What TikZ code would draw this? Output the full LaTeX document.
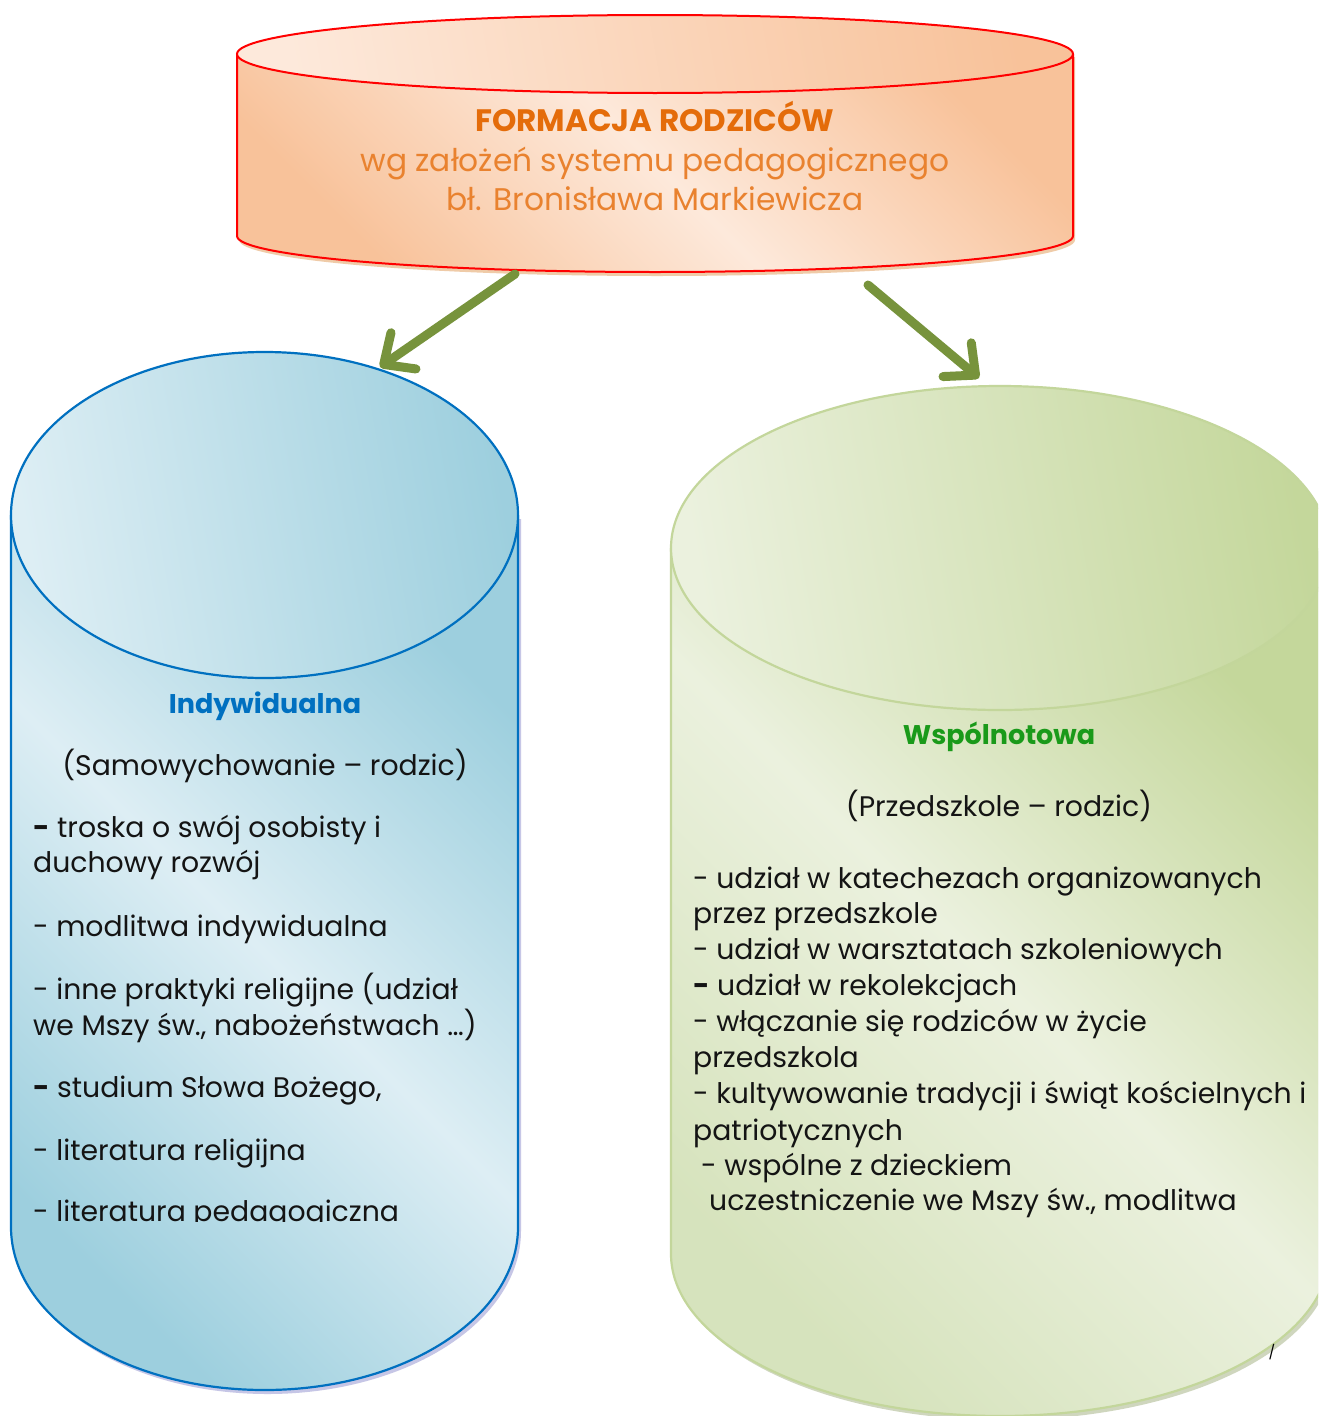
\documentclass[tikz,border=0pt]{standalone}
\usepackage{fontspec}
\setmainfont{Poppins}
\usetikzlibrary{arrows.meta}
\definecolor{arrowgreen}{HTML}{77933C}
\definecolor{titleorange}{HTML}{E46C0A}
\definecolor{suborange}{HTML}{E9822F}
\definecolor{headblue}{HTML}{0070C0}
\definecolor{headgreen}{HTML}{1A9A1A}
\definecolor{bluedark}{HTML}{9DCFDE}
\definecolor{bluelight}{HTML}{DDEEF4}
\definecolor{orangedark}{HTML}{F8C29A}
\definecolor{orangelight}{HTML}{FDE9DB}
\definecolor{greendark}{HTML}{C4D79B}
\definecolor{greenlight}{HTML}{EBF1DE}
\definecolor{greenline}{HTML}{C3D69B}
\pgfdeclarehorizontalshading{bluebody}{100bp}{rgb(0bp)=(0.616,0.812,0.871); rgb(25bp)=(0.616,0.812,0.871); rgb(50bp)=(0.867,0.933,0.957); rgb(75bp)=(0.616,0.812,0.871); rgb(100bp)=(0.616,0.812,0.871)}
\pgfdeclarehorizontalshading{orangebody}{100bp}{rgb(0bp)=(0.973,0.761,0.604); rgb(25bp)=(0.973,0.761,0.604); rgb(50bp)=(0.992,0.914,0.859); rgb(75bp)=(0.973,0.761,0.604); rgb(100bp)=(0.973,0.761,0.604)}
\pgfdeclarehorizontalshading{greenbody}{100bp}{rgb(0bp)=(0.84,0.89,0.74); rgb(25bp)=(0.84,0.89,0.74); rgb(50bp)=(0.922,0.945,0.871); rgb(75bp)=(0.769,0.843,0.608); rgb(100bp)=(0.769,0.843,0.608)}
\begin{document}
\begin{tikzpicture}[x=1pt,y=-1pt,
  txt/.style={font=\fontsize{28.3}{33}\selectfont, inner sep=0pt, text=black!92},
  headtxt/.style={font=\fontsize{27}{32}\selectfont\bfseries, inner sep=0pt},
  toptxt/.style={font=\fontsize{31.3}{36}\selectfont, inner sep=0pt, text=suborange},
  arr/.style={draw=arrowgreen, line width=9pt, line cap=round,
    -{Straight Barb[length=24pt, width=44pt, round]}}
]
\useasboundingbox (0,0) rectangle (1318,1416);
\fill[white] (0,0) rectangle (1318,1416);

% ---------- left cylinder (blue) ----------
\fill[gray!60!blue!40, opacity=0.8] (14,519) -- (14,1231) arc[start angle=180, end angle=0, x radius=253.5, y radius=163] -- (521,519) -- cycle;
\shade[shading=bluebody, shading angle=45] (11,515) -- (11,1227) arc[start angle=180, end angle=0, x radius=253.5, y radius=163] -- (518,515) -- cycle;
\draw[headblue, line width=2.2pt] (11,515) -- (11,1227) arc[start angle=180, end angle=0, x radius=253.5, y radius=163] -- (518,515);
\shade[left color=bluelight, right color=bluedark, shading angle=100] (264.5,515) ellipse[x radius=253.5, y radius=163];
\draw[headblue, line width=2.2pt] (264.5,515) ellipse[x radius=253.5, y radius=163];

% ---------- right cylinder (green) ----------
\begin{scope}
\clip (0,0) rectangle (1318,1416);
\fill[greenline!70!gray, opacity=0.6] (674,551) -- (674,1258) arc[start angle=180, end angle=0, x radius=329, y radius=162] -- (1332,551) -- cycle;
\shade[shading=greenbody, shading angle=45] (671,548) -- (671,1254) arc[start angle=180, end angle=0, x radius=329, y radius=162] -- (1329,548) -- cycle;
\draw[greenline, line width=2.2pt] (671,548) -- (671,1254) arc[start angle=180, end angle=0, x radius=329, y radius=162] -- (1329,548);
\shade[left color=greenlight, right color=greendark, shading angle=100] (1000,548) ellipse[x radius=329, y radius=162];
\draw[greenline, line width=2.2pt] (1000,548) ellipse[x radius=329, y radius=162];
\end{scope}

% ---------- top cylinder (orange) ----------
\fill[brown!60!orange!50, opacity=0.8] (239,57) -- (239,240) arc[start angle=180, end angle=0, x radius=418, y radius=36] -- (1075,57) -- cycle;
\shade[shading=orangebody, shading angle=45] (237,54) -- (237,236) arc[start angle=180, end angle=0, x radius=418, y radius=36] -- (1073,54) -- cycle;
\draw[red, line width=2pt] (237,54) -- (237,236) arc[start angle=180, end angle=0, x radius=418, y radius=36] -- (1073,54);
\shade[left color=orangelight, right color=orangedark, shading angle=100] (655,54) ellipse[x radius=418, y radius=39];
\draw[red, line width=2pt] (655,54) ellipse[x radius=418, y radius=39];

% ---------- top texts ----------
\node[toptxt, font=\fontsize{31}{36}\selectfont\bfseries, text=titleorange, anchor=base] (title) at (655,131) {FORMACJA RODZICÓW};
\node[toptxt, anchor=base] (sub1) at (655,171) {wg założeń systemu pedagogicznego};
\node[toptxt, anchor=base] (sub2) at (655,210) {bł. Bronisława Markiewicza};

% ---------- arrows ----------
\coordinate (a1s) at (515,274);
\coordinate (a1e) at (380,367);
\coordinate (a2s) at (868,285);
\coordinate (a2e) at (979,378);
\draw[arr] (a1s) -- (a1e);
\draw[arr] (a2s) -- (a2e);

% ---------- left texts ----------
\node[headtxt, text=headblue, anchor=base] (h1) at (265,713) {Indywidualna};
\node[txt, anchor=base] (s1) at (265,775) {(Samowychowanie – rodzic)};
\node[txt, anchor=base west] (l1) at (33,837) {{\bfseries -} troska o swój osobisty i};
\node[txt, anchor=base west] (l2) at (33,872) {duchowy rozwój};
\node[txt, anchor=base west] (l3) at (33,936) {- modlitwa indywidualna};
\node[txt, anchor=base west] (l4) at (33,999) {- inne praktyki religijne (udział};
\node[txt, anchor=base west] (l5) at (33,1035) {we Mszy św., nabożeństwach …)};
\node[txt, anchor=base west] (l6) at (33,1097) {{\bfseries -} studium Słowa Bożego,};
\node[txt, anchor=base west] (l7) at (33,1160) {- literatura religijna};
\begin{scope}
\clip (0,1150) rectangle (530,1221);
\node[txt, anchor=base west] (l8) at (33,1221) {- literatura pedagogiczna};
\end{scope}

% ---------- right texts ----------
\node[headtxt, text=headgreen, anchor=base] (h2) at (999,744) {Wspólnotowa};
\node[txt, anchor=base] (s2) at (999,816) {(Przedszkole – rodzic)};
\node[txt, anchor=base west] (r1) at (693,888) {- udział w katechezach organizowanych};
\node[txt, anchor=base west] (r2) at (693,923) {przez przedszkole};
\node[txt, anchor=base west] (r3) at (693,959) {- udział w warsztatach szkoleniowych};
\node[txt, anchor=base west] (r4) at (693,995) {{\bfseries -} udział w rekolekcjach};
\node[txt, anchor=base west] (r5) at (693,1031) {- włączanie się rodziców w życie};
\node[txt, anchor=base west] (r6) at (693,1067) {przedszkola};
\node[txt, anchor=base west] (r7) at (693,1103) {- kultywowanie tradycji i świąt kościelnych i};
\node[txt, anchor=base west] (r8) at (693,1140) {patriotycznych};
\node[txt, anchor=base west] (r9) at (701,1175) {- wspólne z dzieckiem};
\node[txt, anchor=base west] (r10) at (709,1210) {uczestniczenie we Mszy św., modlitwa};
\node[font=\fontsize{14}{14}\selectfont, inner sep=0pt, anchor=base] (mark) at (1272,1357) {/};
\end{tikzpicture}
\end{document}
